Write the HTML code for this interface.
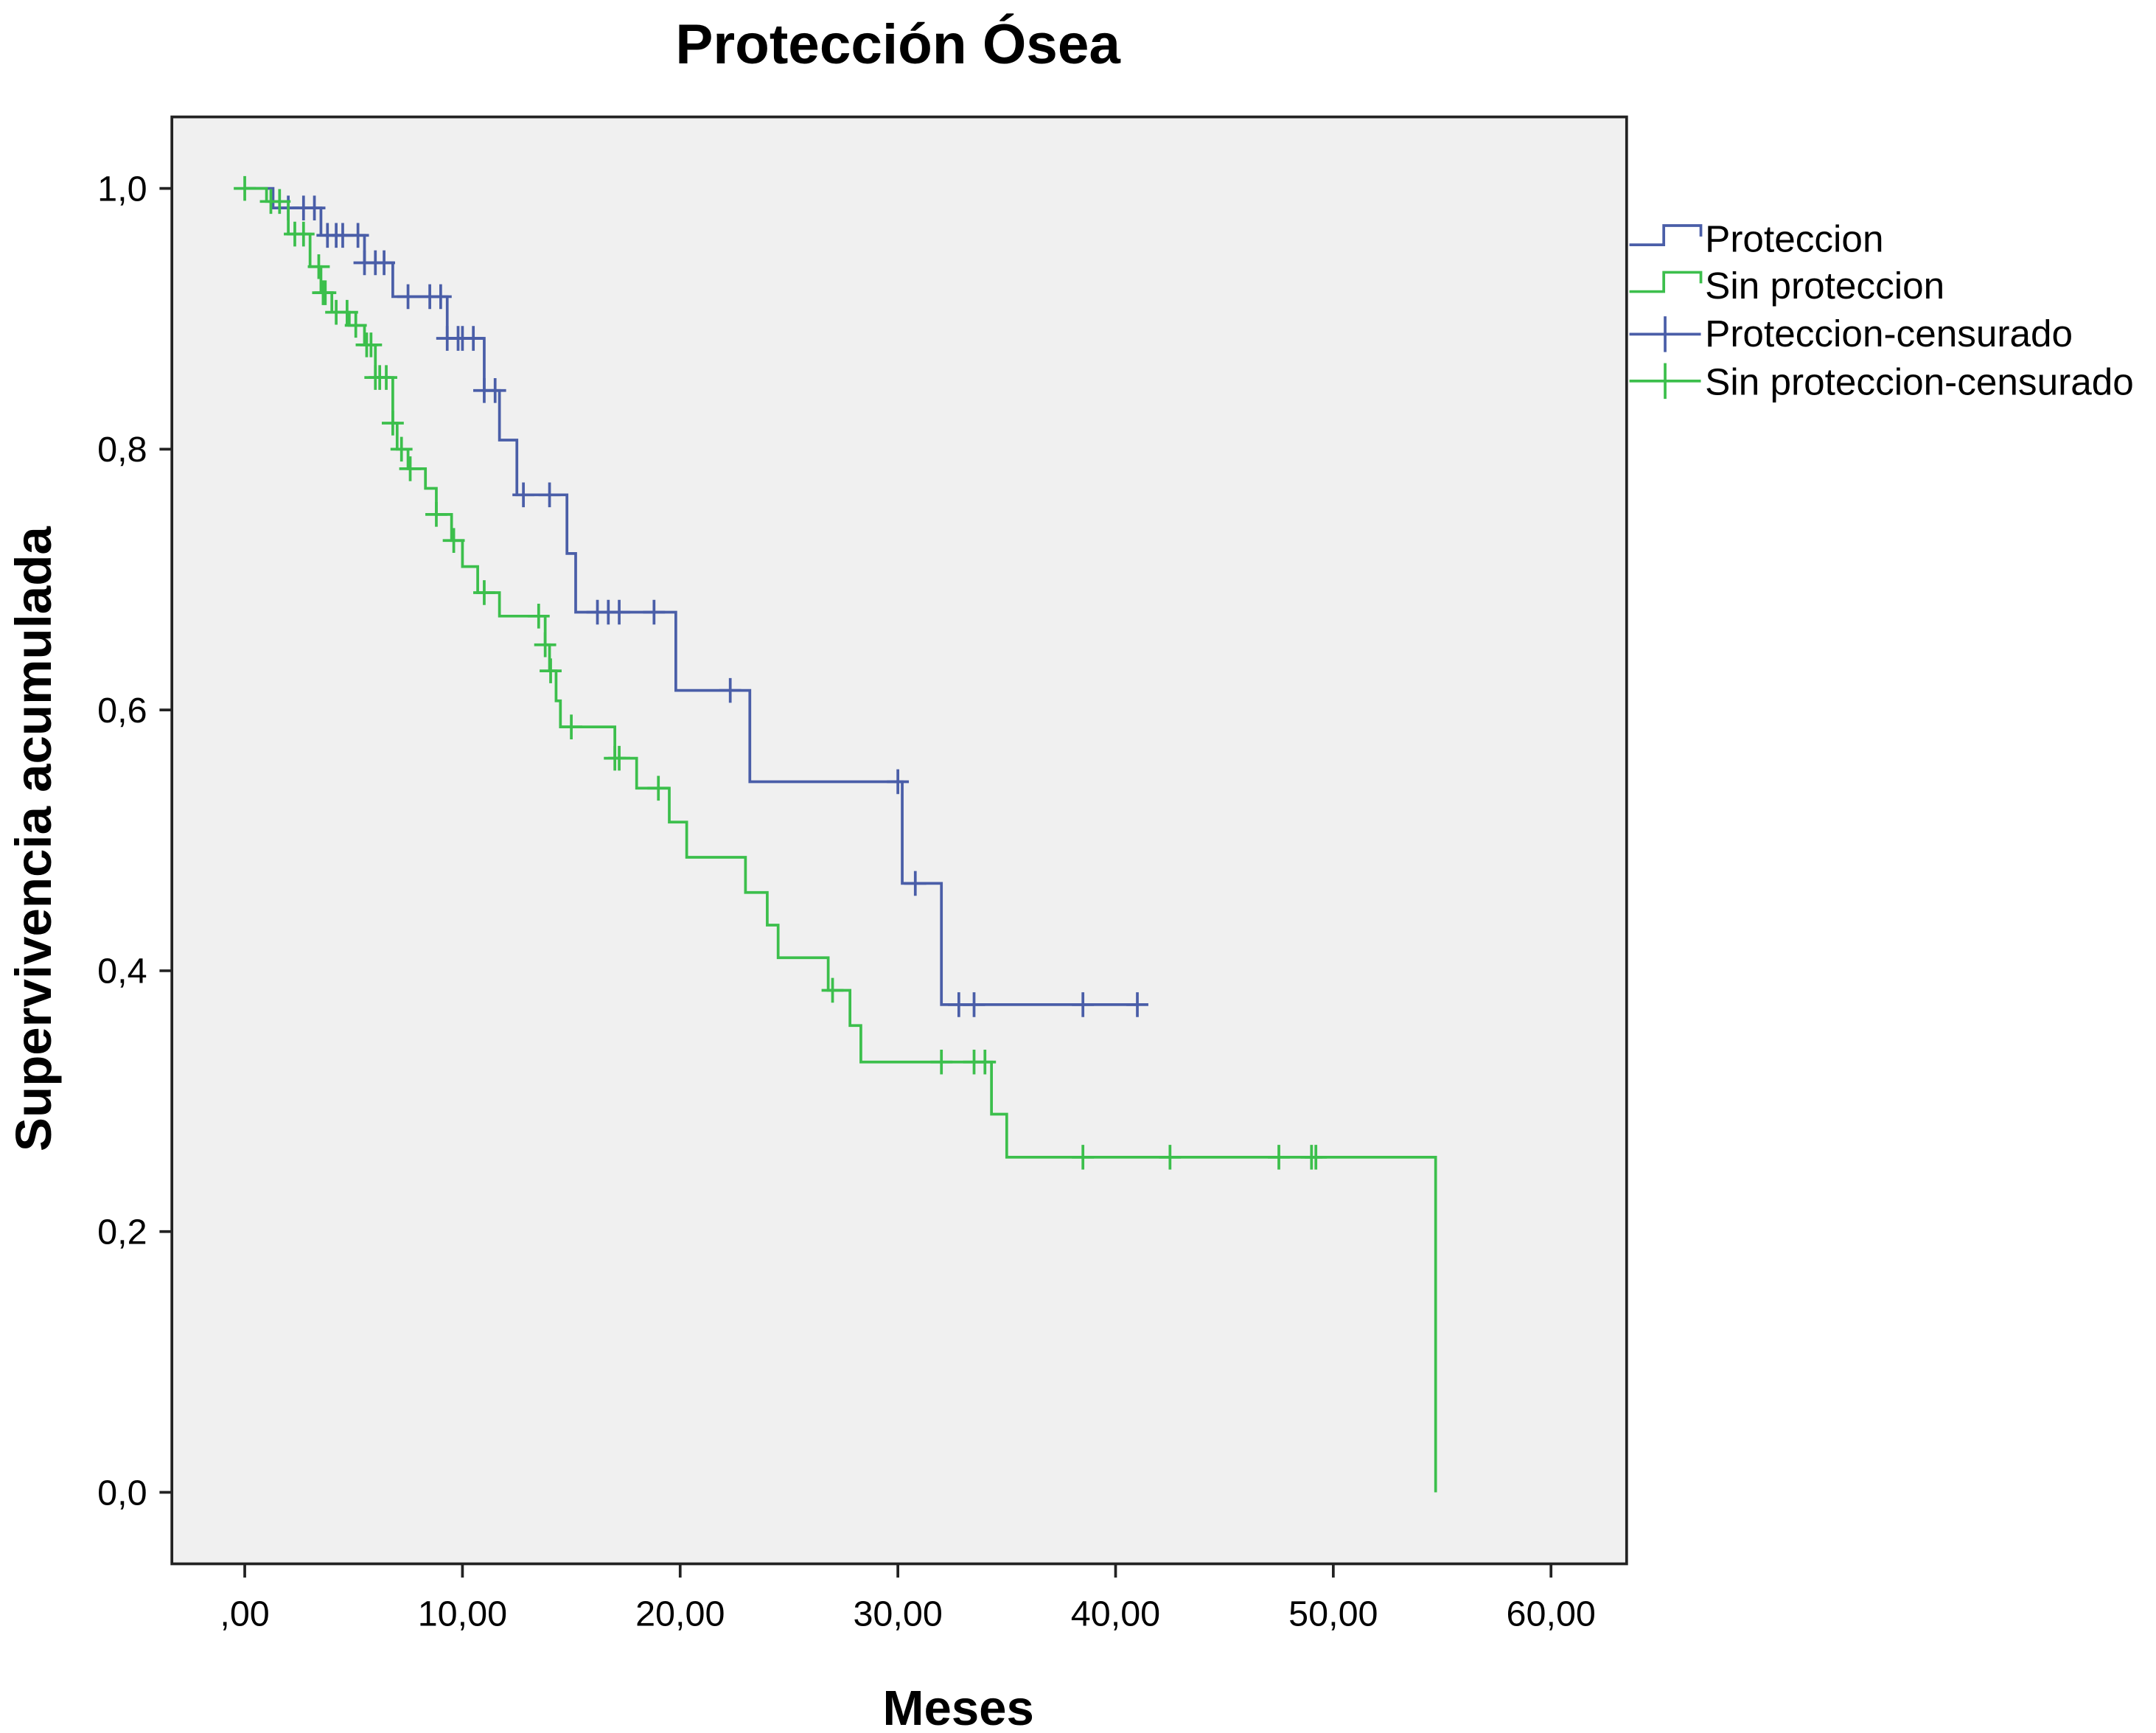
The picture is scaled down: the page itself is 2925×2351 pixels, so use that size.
<!DOCTYPE html>
<html><head><meta charset="utf-8"><style>
html,body{margin:0;padding:0;background:#fff;}
svg{display:block;}
text{font-family:"Liberation Sans",Arial,sans-serif;}
</style></head><body>
<svg id="chart" width="2925" height="2351" viewBox="0 0 1568 1260" preserveAspectRatio="none" xmlns="http://www.w3.org/2000/svg">
<text x="653" y="46" font-size="41" font-weight="bold" text-anchor="middle">Protección Ósea</text>
<rect x="125" y="85" width="1058" height="1052" fill="#f0f0f0" stroke="#222" stroke-width="2"/>
<g id="axes"></g>
<g id="series"></g>
<text transform="translate(37,610) rotate(-90)" font-size="37" font-weight="bold" text-anchor="middle">Supervivencia acumulada</text>
<text x="697" y="1254" font-size="36" font-weight="bold" text-anchor="middle">Meses</text>
<g font-size="27.5">
<path d="M1185 178 H1210 V164 H1237 V172" fill="none" stroke="#4a5ea8" stroke-width="2"/>
<text x="1240" y="183">Proteccion</text>
<path d="M1185 212 H1210 V198 H1237 V206" fill="none" stroke="#3cbf4c" stroke-width="2"/>
<text x="1240" y="217">Sin proteccion</text>
<path d="M1185 243 H1237 M1211 230 V256" stroke="#4a5ea8" stroke-width="2"/>
<text x="1240" y="252">Proteccion-censurado</text>
<path d="M1185 277 H1237 M1211 264 V290" stroke="#3cbf4c" stroke-width="2"/>
<text x="1240" y="287">Sin proteccion-censurado</text>
</g>
</svg>
<script>
const xTicks = [0,10,20,30,40,50,60];
const xTickLabels = [",00","10,00","20,00","30,00","40,00","50,00","60,00"];
const yTicks = [0,0.2,0.4,0.6,0.8,1.0];
const yTickLabels = ["0,0","0,2","0,4","0,6","0,8","1,0"];
const protTimes = [0,1.3,3.5,5.5,6.8,9.3,11,11.7,12.5,14.8,15.2,19.8,23.2,30.2,32];
const protSurv = [1,0.985,0.964,0.943,0.917,0.885,0.845,0.807,0.765,0.72,0.675,0.615,0.545,0.467,0.374];
const protEnd = 41;
const protCensor = [2,2.7,3.2,3.8,4.2,4.5,5.2,5.5,6,6.4,7.5,8.5,9,9.3,9.8,10,10.5,11,11.5,12.8,14,16.2,16.7,17.2,18.8,22.3,30,30.8,32.8,33.5,38.5,41];
const sinTimes = [0,1,2,3,3.5,4,4.8,5.5,6,6.8,7,7.5,8.3,8.8,9.5,10,10.7,11.7,13.8,14,14.3,14.5,17,18,19.5,20.3,23,24,24.5,26.8,27.8,28.3,34.3,35,54.7];
const sinSurv = [1,0.99,0.965,0.94,0.92,0.905,0.895,0.88,0.855,0.82,0.8,0.785,0.77,0.75,0.73,0.71,0.69,0.672,0.65,0.63,0.607,0.587,0.563,0.54,0.514,0.487,0.46,0.435,0.41,0.385,0.358,0.33,0.29,0.257,0];
const sinEnd = 54.7;
const sinCensor = [0,1.2,1.6,2.3,2.7,3.4,3.6,3.7,4.2,4.7,5.1,5.6,5.8,6,6.2,6.5,6.8,7.2,7.6,8.8,9.6,11,13.5,13.8,14.05,15,17,17.2,19,27,32,33.5,34,38.5,42.5,47.5,49,49.2];

const NS='http://www.w3.org/2000/svg';
const X = t => 178 + t*(1128-178)/60;
const Y = v => 1085 - v*(1085-137);
function mk(tag, attrs, parent){const e=document.createElementNS(NS,tag);for(const k in attrs)e.setAttribute(k,attrs[k]);parent.appendChild(e);return e;}
const axes=document.getElementById('axes');
xTicks.forEach((t,i)=>{
  const l=mk('line',{x1:X(t),x2:X(t),y1:1137,y2:1147,stroke:'#222','stroke-width':2},axes);
  
  
  const tx=mk('text',{x:X(t),y:1182,'font-size':26,'text-anchor':'middle'},axes);
  tx.textContent=xTickLabels[i];
  
  
});
yTicks.forEach((v,i)=>{
  const l=mk('line',{x1:116,x2:125,y1:Y(v),y2:Y(v),stroke:'#222','stroke-width':2},axes);
  
  
  const tx=mk('text',{x:107,y:Y(v)+9,'font-size':26,'text-anchor':'end'},axes);
  tx.textContent=yTickLabels[i];
  
  
});
function survAt(times,surv,t){let s=surv[0];for(let i=0;i<times.length;i++){if(times[i]<=t)s=surv[i];}return s;}
function drawSeries(times,surv,end,cens,color,name){
  const g=document.getElementById('series');
  let d='M'+X(times[0])+' '+Y(surv[0]);
  for(let i=1;i<times.length;i++){d+=' H'+X(times[i])+' V'+Y(surv[i]);}
  d+=' H'+X(end);
  const p=mk('path',{d:d,fill:'none',stroke:color,'stroke-width':2},g);
  
  
  cens.forEach(t=>{
    const v=survAt(times,surv,t);
    const c=mk('path',{d:'M'+(X(t)-8)+' '+Y(v)+' H'+(X(t)+8)+' M'+X(t)+' '+(Y(v)-9)+' V'+(Y(v)+9),stroke:color,'stroke-width':2},g);
    
    
  });
}
drawSeries(protTimes,protSurv,protEnd,protCensor,'#4a5ea8','proteccion');
drawSeries(sinTimes,sinSurv,sinEnd,sinCensor,'#3cbf4c','sin-proteccion');
</script>
</body></html>
